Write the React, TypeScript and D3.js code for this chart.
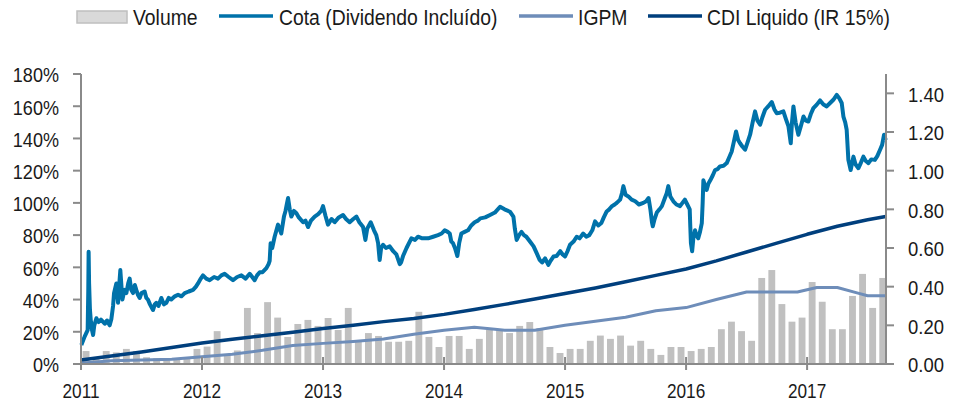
import React from "react";
import * as d3 from "d3";

// ---- data ----
// Volume: monthly bars, Jan 2011 .. Aug 2017 (right axis)
const volumeStart = 2011;
const volume = [
  0.067, 0.035, 0.067, 0.06, 0.078, 0.067, 0.035, 0.03, 0.02, 0.03, 0.03, 0.078,
  0.09, 0.17, 0.05, 0.07, 0.29, 0.16, 0.32, 0.24, 0.14, 0.207, 0.228, 0.197,
  0.238, 0.176, 0.29, 0.12, 0.16, 0.145, 0.115, 0.115, 0.12, 0.27, 0.14, 0.088,
  0.145, 0.145, 0.078, 0.13, 0.176, 0.176, 0.16, 0.197, 0.217, 0.186, 0.088, 0.057,
  0.078, 0.078, 0.12, 0.147, 0.13, 0.147, 0.095, 0.12, 0.078, 0.047, 0.088, 0.088,
  0.067, 0.078, 0.088, 0.18, 0.219, 0.17, 0.12, 0.445, 0.486, 0.31, 0.219, 0.24,
  0.424, 0.322, 0.18, 0.18, 0.352, 0.466, 0.29, 0.445,
];

// Cota (Dividendo Incluído): [decimal year, %]
const cota: [number, number][] = [
  [2011.003, 11.8], [2011.03, 17], [2011.055, 21], [2011.06, 45], [2011.063, 69.7], [2011.067, 50],
  [2011.074, 33.5], [2011.082, 26], [2011.091, 21], [2011.1, 18], [2011.11, 24], [2011.127, 28.4],
  [2011.145, 26], [2011.165, 27.5], [2011.196, 25], [2011.215, 27], [2011.237, 24], [2011.251, 28],
  [2011.265, 36], [2011.273, 43.9], [2011.292, 50], [2011.306, 38], [2011.315, 48], [2011.325, 58.3],
  [2011.342, 40], [2011.36, 46], [2011.375, 44], [2011.39, 50], [2011.402, 53], [2011.415, 46],
  [2011.43, 44], [2011.445, 49], [2011.457, 46], [2011.47, 43], [2011.485, 41], [2011.5, 44],
  [2011.526, 45], [2011.54, 41], [2011.553, 40], [2011.57, 37], [2011.595, 33.5], [2011.61, 37],
  [2011.622, 38], [2011.64, 36], [2011.664, 41], [2011.685, 37], [2011.705, 38], [2011.725, 41],
  [2011.746, 40], [2011.775, 42], [2011.802, 43], [2011.83, 42], [2011.857, 44], [2011.89, 45],
  [2011.926, 46], [2011.95, 48], [2011.967, 50], [2011.99, 53], [2012.008, 55], [2012.035, 53],
  [2012.063, 52], [2012.1, 54], [2012.132, 53], [2012.16, 55], [2012.187, 56], [2012.22, 54],
  [2012.256, 52], [2012.29, 54], [2012.325, 55], [2012.36, 53], [2012.394, 56], [2012.415, 54],
  [2012.435, 52], [2012.455, 55], [2012.477, 57], [2012.5, 57], [2012.532, 59.5], [2012.55, 62],
  [2012.559, 64], [2012.567, 75], [2012.58, 72], [2012.6, 79], [2012.628, 86.5], [2012.655, 81],
  [2012.677, 91.5], [2012.69, 95], [2012.7, 99], [2012.711, 103], [2012.725, 96], [2012.738, 91.5],
  [2012.76, 95], [2012.78, 93.6], [2012.8, 91], [2012.835, 88], [2012.855, 89], [2012.876, 85],
  [2012.9, 89], [2012.931, 91.5], [2012.96, 93], [2012.985, 95], [2013.0, 98], [2013.02, 92],
  [2013.041, 86.5], [2013.07, 90], [2013.096, 88], [2013.13, 91], [2013.165, 92.5], [2013.19, 90],
  [2013.22, 88], [2013.25, 90], [2013.276, 91.5], [2013.3, 88], [2013.331, 85], [2013.35, 77],
  [2013.365, 84], [2013.394, 88], [2013.421, 83], [2013.44, 80], [2013.455, 75], [2013.468, 64.5],
  [2013.48, 72], [2013.496, 74], [2013.52, 72], [2013.551, 73], [2013.58, 70], [2013.606, 68],
  [2013.634, 62], [2013.645, 63], [2013.661, 67], [2013.69, 72], [2013.73, 78], [2013.76, 77],
  [2013.785, 79], [2013.82, 78], [2013.868, 78], [2013.91, 79], [2013.95, 80], [2013.98, 81],
  [2014.005, 83], [2014.03, 82], [2014.047, 81], [2014.06, 76], [2014.074, 75], [2014.09, 72],
  [2014.11, 67], [2014.125, 75], [2014.143, 81], [2014.17, 82], [2014.198, 83], [2014.225, 86],
  [2014.253, 88], [2014.28, 89], [2014.3, 90.4], [2014.34, 91], [2014.38, 92.5], [2014.42, 94],
  [2014.463, 97.6], [2014.5, 96], [2014.545, 94.5], [2014.573, 91.5], [2014.585, 84], [2014.6, 77],
  [2014.62, 80], [2014.64, 82], [2014.66, 80], [2014.68, 79], [2014.71, 76], [2014.74, 73],
  [2014.77, 68], [2014.79, 64.6], [2014.81, 63], [2014.835, 65.6], [2014.862, 61.5], [2014.88, 64],
  [2014.904, 66.7], [2014.93, 67], [2014.96, 70], [2014.98, 68], [2015.0, 66.7], [2015.02, 70],
  [2015.041, 74], [2015.07, 76], [2015.096, 79], [2015.12, 78], [2015.15, 81], [2015.175, 79],
  [2015.2, 80], [2015.225, 83], [2015.248, 88.5], [2015.275, 86], [2015.3, 87.5], [2015.32, 91],
  [2015.344, 94.7], [2015.365, 96], [2015.385, 97.8], [2015.41, 99], [2015.427, 100], [2015.455, 102],
  [2015.47, 106], [2015.482, 110.4], [2015.5, 105], [2015.523, 104], [2015.55, 102], [2015.58, 101],
  [2015.61, 99], [2015.647, 100], [2015.67, 101], [2015.69, 103], [2015.705, 96], [2015.718, 88],
  [2015.725, 85.5], [2015.74, 90], [2015.758, 94], [2015.78, 96], [2015.8, 98], [2015.825, 103],
  [2015.84, 106], [2015.853, 110.4], [2015.87, 104], [2015.895, 101], [2015.92, 99], [2015.95, 98],
  [2015.97, 100], [2015.99, 102], [2016.01, 99], [2016.03, 96], [2016.035, 85], [2016.04, 75],
  [2016.05, 70], [2016.06, 78], [2016.074, 83], [2016.085, 80], [2016.1, 78], [2016.115, 82],
  [2016.13, 87.5], [2016.137, 100], [2016.143, 114], [2016.155, 111], [2016.17, 108], [2016.185, 112],
  [2016.2, 114], [2016.22, 117], [2016.24, 120.4], [2016.26, 121], [2016.28, 122.6], [2016.31, 123],
  [2016.336, 124.7], [2016.355, 128], [2016.377, 131.9], [2016.395, 138], [2016.413, 144.3], [2016.43, 139],
  [2016.446, 137], [2016.465, 135], [2016.488, 133], [2016.51, 138], [2016.529, 142.3], [2016.55, 150],
  [2016.57, 156.8], [2016.59, 151], [2016.612, 148.5], [2016.63, 153], [2016.653, 157.8], [2016.68, 160],
  [2016.708, 162.6], [2016.73, 158], [2016.749, 155.7], [2016.775, 156], [2016.804, 156.8], [2016.825, 152],
  [2016.846, 147.5], [2016.865, 137], [2016.875, 150], [2016.887, 159.9], [2016.905, 150], [2016.928, 142.3],
  [2016.95, 148], [2016.97, 153.6], [2016.99, 151], [2017.01, 150.5], [2017.03, 155], [2017.052, 158.8],
  [2017.08, 161], [2017.107, 163.6], [2017.135, 161], [2017.162, 159.9], [2017.19, 162], [2017.217, 164],
  [2017.245, 167], [2017.265, 165], [2017.286, 162], [2017.3, 153.6], [2017.315, 150], [2017.327, 145.4],
  [2017.341, 126.7], [2017.36, 120.4], [2017.383, 128.7], [2017.4, 124], [2017.424, 121.5], [2017.445, 125],
  [2017.465, 128.7], [2017.485, 126], [2017.507, 124.7], [2017.53, 127], [2017.56, 126.7], [2017.58, 129],
  [2017.603, 133], [2017.62, 136], [2017.636, 142.3], [2017.65, 139],
];

// IGPM: [decimal year, %]
const igpm: [number, number][] = [
  [2011.0, 0.5], [2011.25, 2], [2011.5, 2.5], [2011.75, 3], [2012.0, 4.5], [2012.25, 6],
  [2012.5, 8.5], [2012.75, 11.5], [2013.0, 12.8], [2013.25, 14], [2013.5, 15.5], [2013.75, 18.5],
  [2014.0, 21], [2014.25, 22.8], [2014.42, 21.5], [2014.5, 21], [2014.75, 21], [2015.0, 24],
  [2015.25, 26.5], [2015.5, 29], [2015.75, 33], [2016.0, 35], [2016.25, 40], [2016.5, 44.7],
  [2016.92, 44.7], [2017.08, 47.5], [2017.25, 47.5], [2017.42, 44], [2017.5, 42.4], [2017.65, 42.4],
];

// CDI Liquido (IR 15%): [decimal year, %]
const cdi: [number, number][] = [
  [2011.0, 2.5], [2011.25, 5], [2011.5, 7.5], [2011.75, 10.3], [2012.0, 13], [2012.25, 15.3],
  [2012.5, 17.5], [2012.75, 19.7], [2013.0, 22], [2013.25, 24], [2013.5, 26.3], [2013.75, 28.3],
  [2014.0, 30.8], [2014.25, 33.8], [2014.5, 37], [2014.75, 40.3], [2015.0, 43.8], [2015.25, 47.2],
  [2015.5, 51], [2015.75, 55], [2016.0, 59], [2016.25, 64], [2016.5, 69.5], [2016.75, 75],
  [2017.0, 80.5], [2017.25, 85.5], [2017.5, 89.5], [2017.65, 91.5],
];

const yearTicks = [2011, 2012, 2013, 2014, 2015, 2016, 2017];
const leftTicks = [0, 20, 40, 60, 80, 100, 120, 140, 160, 180];
const rightTicks = [0, 0.2, 0.4, 0.6, 0.8, 1.0, 1.2, 1.4];

const legendItems = [
  { label: "Volume", kind: "bar", color: "#d9d9d9" },
  { label: "Cota (Dividendo Incluído)", kind: "line", color: "#0072AA" },
  { label: "IGPM", kind: "line", color: "#6E8DB9" },
  { label: "CDI Liquido (IR 15%)", kind: "line", color: "#003F7D" },
];

const W = 965;
const H = 402;
const FONT = "'Liberation Sans', Arial, sans-serif";

function NText(props: {
  x: number;
  y: number;
  sx: number;
  size: number;
  anchor?: string;
  dy?: string;
  children: React.ReactNode;
}) {
  const { x, y, sx, size, anchor, dy, children } = props;
  return (
    <text
      transform={`translate(${x},${y}) scale(${sx},1)`}
      x={0}
      y={0}
      dy={dy}
      textAnchor={anchor || "start"}
      fontSize={size}
      fill="#1a1a1a"
    >
      {children}
    </text>
  );
}

export default function App() {
  const left = 81, right = 886, top = 74, bottom = 364;
  const x = d3.scaleLinear().domain([2011, 2017.652]).range([left, right]);
  const yL = d3.scaleLinear().domain([0, 180]).range([bottom, top]);
  const yR = d3.scaleLinear().domain([0, 1.5]).range([bottom, top]);

  const line = d3
    .line<[number, number]>()
    .x((d) => x(d[0]))
    .y((d) => yL(d[1]));

  const monthW = x(2011 + 1 / 12) - x(2011);
  const barW = monthW * 0.68;
  const axisColor = "#8a8a8a";

  const legendX = [77, 219, 519, 648];
  const legendTextX = [133, 279, 578, 707];

  return (
    <svg
      width={W}
      height={H}
      style={{ position: "absolute", left: 0, top: 0, background: "#fff" }}
      fontFamily={FONT}
    >
      {/* bars */}
      <g>
        {volume.map((v, i) => {
          const t = volumeStart + i / 12;
          const cx = x(t) + monthW / 2;
          return (
            <rect
              key={i}
              x={cx - barW / 2}
              y={yR(v)}
              width={barW}
              height={yR(0) - yR(v)}
              fill="#c0c0c0"
            />
          );
        })}
      </g>

      {/* lines */}
      <path d={line(igpm) || ""} fill="none" stroke="#6E8DB9" strokeWidth={3} strokeLinejoin="round" />
      <path d={line(cdi) || ""} fill="none" stroke="#003F7D" strokeWidth={3.5} strokeLinejoin="round" />
      <path d={line(cota) || ""} fill="none" stroke="#0072AA" strokeWidth={4} strokeLinejoin="round" />

      {/* left axis */}
      <line x1={left} x2={left} y1={top} y2={bottom} stroke={axisColor} strokeWidth={2} />
      {leftTicks.map((t) => (
        <g key={t}>
          <line x1={left - 8} x2={left} y1={yL(t)} y2={yL(t)} stroke={axisColor} strokeWidth={2} />
          <NText x={59} y={yL(t) + 1} sx={0.86} size={21} anchor="end" dy="0.35em">
            {t}%
          </NText>
        </g>
      ))}

      {/* right axis */}
      <line x1={right} x2={right} y1={top} y2={bottom} stroke={axisColor} strokeWidth={2} />
      {rightTicks.map((t) => (
        <g key={t}>
          <line x1={right} x2={right + 8} y1={yR(t)} y2={yR(t)} stroke={axisColor} strokeWidth={2} />
          <NText x={908} y={yR(t) + 1} sx={0.88} size={21} anchor="start" dy="0.35em">
            {t.toFixed(2)}
          </NText>
        </g>
      ))}

      {/* x axis */}
      <line x1={left} x2={right} y1={bottom} y2={bottom} stroke={axisColor} strokeWidth={2} />
      {yearTicks.map((yr) => (
        <g key={yr}>
          <line x1={x(yr)} x2={x(yr)} y1={bottom - 7} y2={bottom + 6} stroke={axisColor} strokeWidth={2} />
          <NText x={x(yr)} y={398} sx={0.82} size={21} anchor="middle">
            {yr}
          </NText>
        </g>
      ))}

      {/* legend */}
      {legendItems.map((it, i) => (
        <g key={it.label}>
          {it.kind === "bar" ? (
            <rect x={legendX[i]} y={11} width={50} height={12} fill={it.color} stroke="#bfbfbf" strokeWidth={1.5} />
          ) : (
            <line x1={legendX[i]} x2={legendX[i] + 54} y1={16} y2={16} stroke={it.color} strokeWidth={3.5} />
          )}
          <NText x={legendTextX[i]} y={25} sx={0.88} size={22}>
            {it.label}
          </NText>
        </g>
      ))}
    </svg>
  );
}
